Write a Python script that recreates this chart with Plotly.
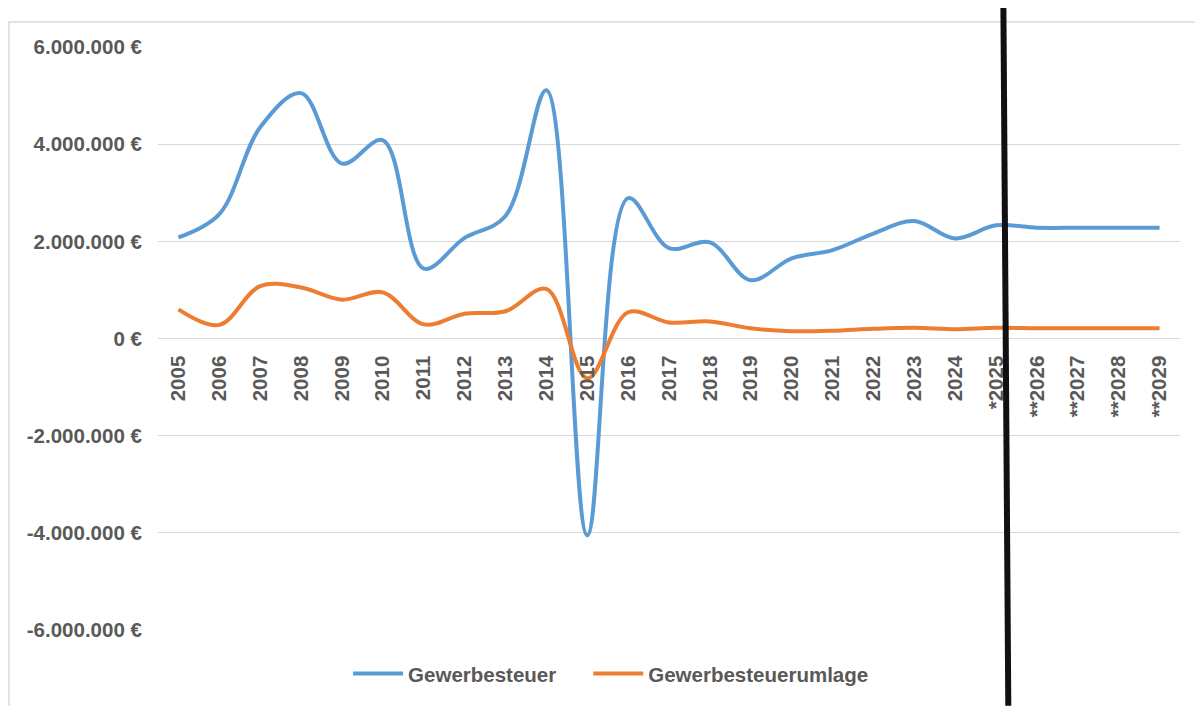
import plotly.graph_objects as go

years = ['2005', '2006', '2007', '2008', '2009', '2010', '2011', '2012', '2013', '2014',
         '2015', '2016', '2017', '2018', '2019', '2020', '2021', '2022', '2023', '2024',
         '*2025', '**2026', '**2027', '**2028', '**2029']

gewerbesteuer = [2080000, 2560000, 4350000, 5050000, 3600000, 4080000, 1440000, 2070000,
                 2520000, 5110000, -4050000, 2890000, 1860000, 1980000, 1200000, 1650000,
                 1820000, 2160000, 2420000, 2060000, 2330000, 2280000, 2280000, 2280000,
                 2280000]

umlage = [600000, 280000, 1080000, 1050000, 800000, 950000, 290000, 510000, 560000,
          1020000, -820000, 540000, 330000, 350000, 210000, 150000, 160000, 200000,
          220000, 190000, 220000, 210000, 210000, 210000, 210000]

y_ticks = [-6000000, -4000000, -2000000, 0, 2000000, 4000000, 6000000]
y_labels = ['-6.000.000 €', '-4.000.000 €', '-2.000.000 €', '0 €',
            '2.000.000 €', '4.000.000 €', '6.000.000 €']

# Trennlinie zwischen Ist und Prognose (Position auf der Kategorienachse)
trenn_oben = years.index('*2025') + 0.18
trenn_unten = years.index('*2025') + 0.30

grey = '#595959'
font = dict(family='Liberation Sans, Arial, sans-serif', size=20.5, color=grey, weight='bold')

fig = go.Figure()
fig.add_trace(go.Scatter(x=years, y=gewerbesteuer, name='Gewerbesteuer', mode='lines',
                         line=dict(color='#5B9BD5', width=4, shape='spline', smoothing=1),
                         legend='legend'))
fig.add_trace(go.Scatter(x=years, y=umlage, name='Gewerbesteuerumlage', mode='lines',
                         line=dict(color='#ED7D31', width=4, shape='spline', smoothing=1),
                         legend='legend2'))

leg = dict(orientation='h', y=-0.075, xanchor='left', yanchor='middle',
           font=font, bgcolor='rgba(0,0,0,0)', itemwidth=50)

fig.update_layout(
    width=1195, height=698,
    margin=dict(l=150, r=23, t=39, b=76),
    paper_bgcolor='white', plot_bgcolor='white',
    font=font,
    showlegend=True,
    legend=dict(leg, x=0.186),
    legend2=dict(leg, x=0.421),
    xaxis=dict(type='category', range=[-0.5, 24.5], showgrid=False, showline=False,
               anchor='free', position=0.5, tickangle=-90, ticks='outside', ticklen=8,
               tickcolor='rgba(0,0,0,0)', tickfont=font, zeroline=False),
    yaxis=dict(range=[-6000000, 6000000], tickvals=y_ticks, ticktext=y_labels,
               showgrid=True, gridcolor='#d9d9d9', gridwidth=1,
               zeroline=True, zerolinecolor='#d9d9d9', zerolinewidth=1,
               ticks='outside', ticklen=11, tickcolor='rgba(0,0,0,0)', tickfont=font,
               showline=False),
    shapes=[
        dict(type='rect', xref='paper', yref='paper', x0=-0.1458, x1=1.05, y0=-0.25,
             y1=1.0429, line=dict(color='#d9d9d9', width=1.5), layer='below'),
        dict(type='line', xref='x', yref='paper', x0=trenn_oben, x1=trenn_unten,
             y0=1.067, y1=-0.13, line=dict(color='#111111', width=6)),
    ],
)

fig.write_html('out.html')
